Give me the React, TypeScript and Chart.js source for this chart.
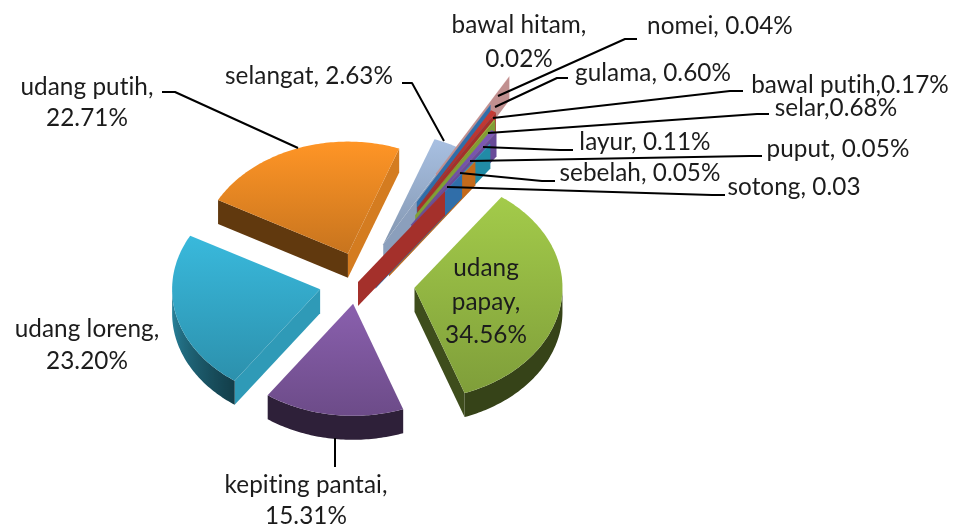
import React, { useEffect, useRef } from "react";
import { Chart, registerables } from "chart.js";

Chart.register(...registerables);

const categories = [
  "udang papay", "kepiting pantai", "udang loreng", "udang putih", "selangat",
  "bawal hitam", "nomei", "gulama", "bawal putih", "selar", "layur", "puput", "sebelah", "sotong",
];
const shares = [34.56, 15.31, 23.2, 22.71, 2.63, 0.02, 0.04, 0.6, 0.17, 0.68, 0.11, 0.05, 0.05, 0.03];
const sliceColors = [
  "#a3cb4a", "#8a60ae", "#39b9dc", "#ff9526", "#a8c0e2",
  "#e9aeae", "#3a85cc", "#c63a34", "#99c040", "#7f5ab8", "#28a8c8", "#ec8020", "#3a85cc", "#c63a34",
];
const sliceOffsets = [53, 29, 43, 40, 55, 165, 122, 115, 105, 92, 75, 48, 28, 0];
const sliceShiftX = [0, -5, 0, 0, -2, -8, -6, -4, -3, -2, -1, -1, -3, -4];

type Caption = { lines: string[]; x: number; y: number[]; leader?: number[][] };
const captions: Caption[] = [
  { lines: ["udang", "papay,", "34.56%"], x: 486, y: [268, 302, 335] },
  { lines: ["kepiting pantai,", "15.31%"], x: 306, y: [485, 516], leader: [[335, 438], [335, 467]] },
  { lines: ["udang loreng,", "23.20%"], x: 87, y: [329, 361] },
  { lines: ["udang putih,", "22.71%"], x: 87, y: [87, 118], leader: [[162, 92], [175, 92], [298, 148]] },
  { lines: ["selangat, 2.63%"], x: 309, y: [76], leader: [[402, 83], [412, 83], [444, 141]] },
  { lines: ["bawal hitam,", "0.02%"], x: 519, y: [25, 59] },
  { lines: ["nomei, 0.04%"], x: 720, y: [26], leader: [[637, 39], [625, 39], [498, 96]] },
  { lines: ["gulama, 0.60%"], x: 653, y: [73], leader: [[568, 78], [557, 78], [495, 107]] },
  { lines: ["bawal putih,0.17%"], x: 850, y: [85], leader: [[743, 91], [730, 91], [493, 118]] },
  { lines: ["selar,0.68%"], x: 836, y: [108], leader: [[769, 114], [757, 114], [488, 133]] },
  { lines: ["layur, 0.11%"], x: 645, y: [142], leader: [[573, 150], [560, 150], [483, 147]] },
  { lines: ["puput, 0.05%"], x: 838, y: [149], leader: [[762, 156], [750, 156], [470, 161]] },
  { lines: ["sebelah, 0.05%"], x: 640, y: [173], leader: [[555, 181], [542, 181], [460, 173]] },
  { lines: ["sotong, 0.03"], x: 794, y: [187], leader: [[725, 195], [712, 195], [447, 187]] },
];

const SQUASH = 0.757;
const DEPTH = 24;

function shade(hex: string, f: number) {
  const n = parseInt(hex.slice(1), 16);
  const c = (v: number) => Math.round(Math.min(255, v * f));
  return `rgb(${c((n >> 16) & 255)},${c((n >> 8) & 255)},${c(n & 255)})`;
}

function outerFactor(clockDeg: number) {
  if (clockDeg < 215) return 0.33;
  if (clockDeg > 280) return 0.82;
  return 0.33 + ((clockDeg - 215) / 65) * 0.49;
}

const pie3d = {
  id: "pie3d",
  beforeDatasetsDraw(chart: any) {
    const { ctx } = chart;
    const arcs = chart.getDatasetMeta(0).data;
    const n = arcs.length;
    for (let k = 0; k < n; k++) {
      const idx = (k + 3) % n;
      const arc = arcs[idx];
      const color: string = arc.options.backgroundColor;
      const off: number = arc.options.offset || 0;
      const { startAngle: s, endAngle: e, outerRadius: r, x: cx, y: cy } = arc;
      const mid = (s + e) / 2;
      const ox = off * Math.cos(mid) + sliceShiftX[idx];
      const oy = off * Math.sin(mid);
      const pt = (rad: number, ang: number): [number, number] => [
        cx + ox + rad * Math.cos(ang),
        cy + (oy + rad * Math.sin(ang)) * SQUASH,
      ];
      const quad = (a: number[], b: number[], fill: string) => {
        ctx.fillStyle = fill;
        ctx.beginPath();
        ctx.moveTo(a[0], a[1]);
        ctx.lineTo(b[0], b[1]);
        ctx.lineTo(b[0], b[1] + DEPTH);
        ctx.lineTo(a[0], a[1] + DEPTH);
        ctx.closePath();
        ctx.fill();
      };
      const apex = pt(0, 0);
      const clock = (ang: number) => (((ang + Math.PI / 2) * 180) / Math.PI + 720) % 360;
      const startN = (clock(s) - 90 + 360) % 360;
      const endN = (clock(e) + 90) % 360;
      const radialFactor = (nrm: number) => (nrm <= 150 ? 0.83 : 0.38);
      if (startN > 90 && startN < 270) quad(apex, pt(r, s), shade(color, radialFactor(startN)));
      if (endN > 90 && endN < 270) quad(apex, pt(r, e), shade(color, radialFactor(endN)));

      // outer wall: one shape, shaded along its width, only where it faces the viewer
      const steps = Math.max(1, Math.ceil(((e - s) * 180) / Math.PI));
      const visible: { p: [number, number]; c: number }[] = [];
      for (let i = 0; i <= steps; i++) {
        const a = s + ((e - s) * i) / steps;
        const c = clock(a);
        if (c >= 90 && c <= 270) visible.push({ p: pt(r, a), c });
      }
      if (visible.length > 1) {
        const xs = visible.map((v) => v.p[0]);
        const minX = Math.min(...xs);
        const maxX = Math.max(...xs);
        const wall = ctx.createLinearGradient(minX, 0, maxX + 0.01, 0);
        visible.forEach((v) => {
          wall.addColorStop(Math.min(1, Math.max(0, (v.p[0] - minX) / (maxX - minX + 0.01))), shade(color, outerFactor(v.c)));
        });
        ctx.fillStyle = wall;
        ctx.beginPath();
        visible.forEach((v, i) => (i ? ctx.lineTo(v.p[0], v.p[1]) : ctx.moveTo(v.p[0], v.p[1])));
        for (let i = visible.length - 1; i >= 0; i--) ctx.lineTo(visible[i].p[0], visible[i].p[1] + DEPTH);
        ctx.closePath();
        ctx.fill();
      }

      // top face
      let top = apex[1];
      let bottom = apex[1];
      ctx.beginPath();
      ctx.moveTo(apex[0], apex[1]);
      for (let i = 0; i <= steps; i++) {
        const p = pt(r, s + ((e - s) * i) / steps);
        ctx.lineTo(p[0], p[1]);
        top = Math.min(top, p[1]);
        bottom = Math.max(bottom, p[1]);
      }
      ctx.closePath();
      const g = ctx.createLinearGradient(0, top, 0, bottom + 1);
      g.addColorStop(0, shade(color, 1));
      g.addColorStop(1, shade(color, 0.78));
      ctx.fillStyle = g;
      ctx.fill();
    }
    return false;
  },
  afterDraw(chart: any) {
    const { ctx } = chart;
    ctx.save();
    ctx.strokeStyle = "#000000";
    ctx.lineWidth = 2;
    ctx.lineJoin = "round";
    ctx.fillStyle = "#1c1c1c";
    ctx.font = '24.3px Lato, "Open Sans", sans-serif';
    (ctx as any).letterSpacing = "0.05px";
    ctx.textAlign = "center";
    ctx.textBaseline = "middle";
    for (const c of captions) {
      if (c.leader) {
        ctx.beginPath();
        c.leader.forEach((p, i) => (i ? ctx.lineTo(p[0], p[1]) : ctx.moveTo(p[0], p[1])));
        ctx.stroke();
      }
      c.lines.forEach((t, i) => ctx.fillText(t, c.x, c.y[i]));
    }
    ctx.restore();
  },
};

export default function App() {
  const ref = useRef<HTMLCanvasElement>(null);
  useEffect(() => {
    document.body.style.margin = "0";
    document.body.style.background = "#ffffff";
    const chart = new Chart(ref.current!, {
      type: "pie",
      data: {
        labels: categories,
        datasets: [
          {
            data: shares,
            backgroundColor: sliceColors,
            offset: sliceOffsets,
            borderWidth: 0,
          },
        ],
      },
      options: {
        responsive: false,
        animation: false,
        rotation: 36,
        radius: 148,
        layout: { padding: { right: 236, top: 36 } },
        plugins: { legend: { display: false }, tooltip: { enabled: false } },
      },
      plugins: [pie3d],
    } as any);
    return () => chart.destroy();
  }, []);
  return (
    <div style={{ width: 960, height: 528 }}>
      <canvas ref={ref} width={960} height={528} style={{ display: "block" }} />
    </div>
  );
}
